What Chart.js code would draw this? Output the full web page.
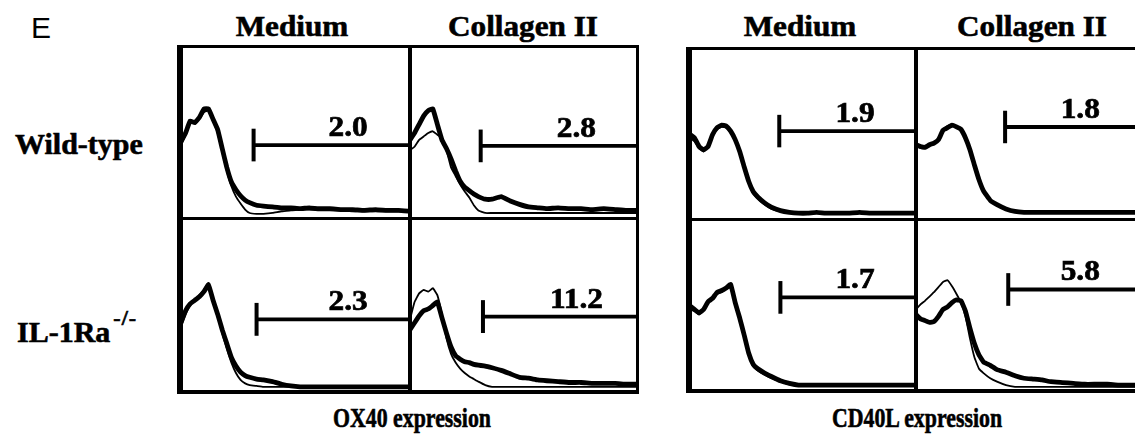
<!DOCTYPE html>
<html>
<head>
<meta charset="utf-8">
<script src="https://cdn.jsdelivr.net/npm/chart.js@4.4.1/dist/chart.umd.min.js"></script>
<style>
    body { margin: 0; width: 1135px; height: 435px; overflow: hidden; background: #fff; position: relative; }
    canvas { position: absolute; }
    .line { position: absolute; background: #000; z-index: 5; }
    .lbl { position: absolute; font-family: "Liberation Serif", "Times New Roman", serif; font-weight: bold; color: #000; white-space: nowrap; line-height: 1; -webkit-text-stroke: 0.6px #000; }
    .title { font-size: 30px; top: 11px; transform: translateX(-50%) scaleX(1.04); }
    .row { font-size: 30px; left: 15px; transform-origin: 0 50%; }
    .axis { font-size: 28px; top: 404px; transform: translateX(-50%) scaleX(0.78); }
    sup { font-size: 22px; vertical-align: 17px; margin-left: 3px; letter-spacing: 1px; }
</style>
</head>
<body>

<div class="lbl" style="left:31px; top:13px; font-family:'Liberation Sans', Arial, sans-serif; font-weight:normal; font-size:30px; -webkit-text-stroke:0;">E</div>

<div class="lbl title" style="left:292px;">Medium</div>
<div class="lbl title" style="left:523px;">Collagen II</div>
<div class="lbl title" style="left:800px;">Medium</div>
<div class="lbl title" style="left:1032px;">Collagen II</div>

<div class="lbl row" style="top:129px;">Wild-type</div>
<div class="lbl row" style="top:307px; left:17px;">IL-1Ra<sup>-/-</sup></div>

<div class="lbl axis" style="left:412px;">OX40 expression</div>
<div class="lbl axis" style="left:917px;">CD40L expression</div>

<canvas id="ox40WtMedium" width="229" height="172" style="left:181px; top:47px;"></canvas>
<canvas id="ox40WtCollagen" width="228" height="172" style="left:410px; top:47px;"></canvas>
<canvas id="ox40KoMedium" width="229" height="173" style="left:181px; top:219px;"></canvas>
<canvas id="ox40KoCollagen" width="228" height="173" style="left:410px; top:219px;"></canvas>
<canvas id="cd40lWtMedium" width="226" height="171" style="left:690px; top:49px;"></canvas>
<canvas id="cd40lWtCollagen" width="225" height="171" style="left:916px; top:49px;"></canvas>
<canvas id="cd40lKoMedium" width="226" height="172" style="left:690px; top:220px;"></canvas>
<canvas id="cd40lKoCollagen" width="225" height="172" style="left:916px; top:220px;"></canvas>

<!-- panel frames -->
<div class="line" style="left:177px; top:45px; width:6px; height:349px;"></div>
<div class="line" style="left:177px; top:45px; width:462px; height:3px;"></div>
<div class="line" style="left:636px; top:45px; width:3px; height:349px;"></div>
<div class="line" style="left:408px; top:45px; width:4px; height:349px;"></div>
<div class="line" style="left:177px; top:217px; width:462px; height:3px;"></div>
<div class="line" style="left:177px; top:390px; width:462px; height:4px;"></div>

<div class="line" style="left:686px; top:47px; width:6px; height:346px;"></div>
<div class="line" style="left:686px; top:47px; width:449px; height:3px;"></div>
<div class="line" style="left:914px; top:47px; width:4px; height:346px;"></div>
<div class="line" style="left:686px; top:218px; width:449px; height:3px;"></div>
<div class="line" style="left:686px; top:389px; width:449px; height:4px;"></div>

<script>
// ======================================
// Data (fluorescence channel in % of axis, cell counts in % of axis)
// ======================================

const channels = [0, 2, 4, 6, 8, 10, 12, 14, 16, 18, 20, 22, 24, 26, 28, 30, 33, 36, 40, 44, 48, 52, 56, 60, 65, 70, 75, 80, 85, 90, 95, 100];

const ox40WtMediumThin = [43, 49, 56, 56, 58, 62, 63, 57, 50, 39, 28, 19, 13, 9, 5.5, 3.5, 3, 3, 3.5, 4.5, 5, 5.5, 5.5, 5, 5, 5, 4.5, 4.5, 4.5, 4.5, 4.5, 4.5];
const ox40WtMediumThick = [45, 50, 57, 56, 59, 64, 64, 58, 52, 41, 30, 21.5, 17, 13.5, 11, 9.5, 8, 7.5, 7, 6.5, 6.5, 6, 6.5, 6, 6, 5.5, 5.5, 5, 5.5, 5, 5, 4.5];

const ox40WtCollagenThin = [40, 42, 46, 48, 50, 51, 49, 47, 40, 30, 25, 20, 16, 12.5, 8, 5, 3.5, 3.5, 3.5, 3.5, 3.5, 3.5, 3.5, 3.5, 3.5, 3.5, 3.5, 3.5, 3.5, 3.5, 3.5, 3.5];
const ox40WtCollagenThick = [46, 50, 55, 60, 63, 64, 55, 46, 41, 35, 28, 22, 18.5, 16.5, 14.5, 13, 11.5, 11.5, 13, 10.5, 8.5, 7, 6.5, 6, 6.5, 6, 6, 5.5, 6, 5.5, 5, 5];

const ox40KoMediumThin = [38, 45, 50, 53, 56, 59, 63, 54, 44, 34, 25, 17, 11, 7, 5, 4, 3.5, 3, 3, 3, 3, 3, 3, 3, 3, 3, 3, 3, 3, 3, 3, 3];
const ox40KoMediumThick = [40, 47, 51, 53, 55, 58, 62, 53, 45, 36, 28, 20, 15, 11.5, 9.5, 8.5, 7.5, 7, 6, 4.5, 3.5, 3, 3, 3, 3, 3, 3, 3, 3, 3, 3, 3];

const ox40KoCollagenThin = [42, 52, 57, 59, 58, 60, 56, 45, 31, 22, 17, 13.5, 11, 9, 7.5, 6, 4, 3, 3, 3, 3, 3, 3, 3, 3, 3, 3, 3, 3, 3, 3, 3];
const ox40KoCollagenThick = [36, 40, 44, 47, 48, 50, 52, 43, 34, 26, 21, 19, 17.5, 17, 16, 15.5, 15, 14, 12.5, 10.5, 8.5, 8, 7, 6.5, 6, 5.5, 5.5, 5, 5, 5, 4.5, 4.5];

const cd40lWtMediumThin = [48, 46, 42, 40, 43, 49, 53, 54.5, 54, 51, 46, 39, 30, 21.5, 15.5, 12.5, 9, 6.5, 5, 4, 4, 4, 4, 4, 4, 4, 4, 4, 4, 4, 4, 4];
const cd40lWtMediumThick = [50, 48, 43, 41, 43, 50, 54, 55.5, 55, 52, 47, 40, 31, 22.5, 16.5, 13.5, 10, 7.5, 5.5, 4.5, 4, 4, 4.5, 4, 4, 4, 4.5, 4, 4, 4, 4, 4];

const cd40lWtCollagenThin = [43, 42, 42, 43.5, 45, 48, 53, 55, 56, 55, 52.5, 47, 40, 31, 22.5, 16, 11, 8.5, 6, 5, 4.5, 4.5, 4.5, 4.5, 4.5, 4.5, 4.5, 4.5, 4.5, 4.5, 4.5, 4.5];
const cd40lWtCollagenThick = [44, 43, 42.5, 44, 45, 47, 52.5, 54, 55.5, 54.5, 53, 48, 41, 32, 23.5, 17, 11.5, 9, 6.5, 5, 4.5, 4.5, 4.5, 4.5, 4.5, 4.5, 4.5, 4.5, 4.5, 4.5, 4.5, 4.5];

const cd40lKoMediumThin = [48, 47, 45, 48, 52, 54, 57, 58, 60, 61, 51, 42, 32, 21.5, 15, 12.5, 10, 8, 6, 4.5, 4, 4, 4, 4, 4, 4, 4, 4, 4, 4, 4, 4];
const cd40lKoMediumThick = [50, 48, 46, 48, 52.5, 54.5, 58, 59, 60.5, 62.5, 52, 43, 33, 22.5, 16, 13.5, 11, 9, 6.5, 5, 4, 4, 4, 4, 4, 4, 4, 4, 4, 4, 4, 4];

const cd40lKoCollagenThin = [48, 51, 53, 55.5, 58, 61, 64, 65, 61.5, 57, 52, 44, 31, 20, 13.5, 11, 8, 6, 4, 3, 3, 3, 3, 3, 3, 3, 3, 3, 3, 3, 3, 3];
const cd40lKoCollagenThick = [45, 42.5, 41.5, 40.5, 41, 44, 48, 49.5, 52, 53.5, 53, 47, 37, 28, 21.5, 17.5, 15.5, 13, 11.5, 9.5, 8, 7.5, 7, 6, 5.5, 5, 4.5, 4.5, 4.5, 4, 4, 4];

// gates: start channel, height, percent positive
const gateStarts = [31.7, 31, 33, 32, 39.5, 39.6, 40, 41];
const gateLevels = [43, 42.5, 42, 43.6, 52, 54.4, 55, 59.6];
const gateLabels = ["2.0", "2.8", "2.3", "11.2", "1.9", "1.8", "1.7", "5.8"];

// ======================================
// Gate label plugin
// ======================================

const gateLabelPlugin = {

    id: "gateLabel",

    afterDatasetsDraw(chart, args, opts) {

        const ctx = chart.ctx;

        const px = chart.scales.x.getPixelForValue(73);

        const py = chart.scales.y.getPixelForValue(opts.level) - 9;

        ctx.save();

        ctx.translate(px, py);

        ctx.scale(1.08, 1);

        ctx.font = "bold 29px 'Liberation Serif', 'Times New Roman', serif";

        ctx.fillStyle = "#000";

        ctx.strokeStyle = "#000";

        ctx.lineWidth = 0.7;

        ctx.textAlign = "center";

        ctx.textBaseline = "alphabetic";

        ctx.fillText(opts.text, 0, 0);

        ctx.strokeText(opts.text, 0, 0);

        ctx.restore();

    }

};

// ======================================
// Reusable Histogram Factory
// ======================================

function toPoints(values) {

    return channels.map((c, i) => ({ x: c, y: values[i] }));

}

function createHistogram(canvasId, thin, thick, gate) {

    const ctx = document
        .getElementById(canvasId)
        .getContext("2d");

    const start = gateStarts[gate];

    const level = gateLevels[gate];

    const lineStyle = {

        borderColor: "#000",

        pointRadius: 0,

        tension: 0.1,

        fill: false,

        clip: false,

        borderJoinStyle: "round"

    };

    return new Chart(ctx, {

        type: "line",

        data: {

            datasets: [

                { ...lineStyle, data: toPoints(thin), borderWidth: 1.8 },

                { ...lineStyle, data: toPoints(thick), borderWidth: 4.8 },

                { ...lineStyle, tension: 0, data: [{ x: start, y: level }, { x: 100, y: level }], borderWidth: 3.8 },

                { ...lineStyle, tension: 0, data: [{ x: start, y: level - 9.5 }, { x: start, y: level + 9.5 }], borderWidth: 4 }

            ]

        },

        options: {

            responsive: false,

            animation: false,

            events: [],

            layout: { padding: 0 },

            plugins: {

                legend: { display: false },

                tooltip: { enabled: false },

                gateLabel: { text: gateLabels[gate], level: level }

            },

            scales: {

                x: { type: "linear", min: 0, max: 100, display: false },

                y: { min: 0, max: 100, display: false }

            }

        },

        plugins: [gateLabelPlugin]

    });

}

// ======================================
// Create Histograms
// ======================================

createHistogram("ox40WtMedium", ox40WtMediumThin, ox40WtMediumThick, 0);
createHistogram("ox40WtCollagen", ox40WtCollagenThin, ox40WtCollagenThick, 1);
createHistogram("ox40KoMedium", ox40KoMediumThin, ox40KoMediumThick, 2);
createHistogram("ox40KoCollagen", ox40KoCollagenThin, ox40KoCollagenThick, 3);

createHistogram("cd40lWtMedium", cd40lWtMediumThin, cd40lWtMediumThick, 4);
createHistogram("cd40lWtCollagen", cd40lWtCollagenThin, cd40lWtCollagenThick, 5);
createHistogram("cd40lKoMedium", cd40lKoMediumThin, cd40lKoMediumThick, 6);
createHistogram("cd40lKoCollagen", cd40lKoCollagenThin, cd40lKoCollagenThick, 7);
</script>
</body>
</html>
